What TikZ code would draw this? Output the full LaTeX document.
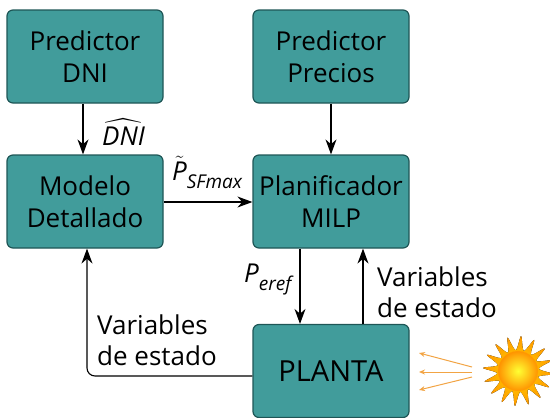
\documentclass[tikz,border=0pt]{standalone}
\usepackage{fontspec}
\usepackage{amsmath}
\setmainfont{Open Sans}
\usetikzlibrary{arrows.meta,shadings}
\definecolor{boxfill}{HTML}{419C9B}
\definecolor{boxline}{HTML}{1E5656}
\definecolor{rayc}{HTML}{F2A444}
\newcommand{\subtxt}[1]{\raisebox{-0.32em}{\fontsize{19}{19}\selectfont\itshape #1}}
\begin{document}
\begin{tikzpicture}[x=1pt,y=-1pt,
  blk/.style={draw=boxline,line width=1.2pt,fill=boxfill,rounded corners=6pt,
    minimum width=156pt,minimum height=93pt,align=center,font=\fontsize{26}{32}\selectfont,inner sep=0pt},
  arr/.style={line width=1.1pt,-{Stealth[length=15pt,width=11pt]}},
  lbl/.style={font=\fontsize{26}{31}\selectfont,inner sep=0pt},
  ray/.style={draw=rayc,line width=1pt,-{Stealth[length=6pt,width=5pt]}}]
\useasboundingbox (0,0) rectangle (550,418);
\node[blk] (pdni) at (85,56.5) {Predictor\\DNI};
\node[blk] (ppre) at (331,56.5) {Predictor\\Precios};
\node[blk] (mod) at (85,201.5) {Modelo\\Detallado};
\node[blk] (plan) at (331,201.5) {Planificador\\MILP};
\node[blk,font=\fontsize{29}{32}\selectfont] (planta) at (331,371) {PLANTA};
\draw[arr] (pdni.south -| 83,0) -- (mod.north -| 83,0);
\draw[arr] (ppre) -- (plan);
\draw[arr] (mod.east |- 0,202) -- (plan.west |- 0,202);
\draw[arr] (plan.south -| 300,0) -- (planta.north -| 300,0);
\draw[arr] (planta.north -| 363,0) -- (plan.south -| 363,0);
\draw[arr,rounded corners=8pt] (planta.west |- 0,376) -| (mod.south -| 87,0);
\node[lbl,anchor=base west] (ldni) at (102,145) {$\widehat{\text{\itshape DNI}}$};
\node[lbl,anchor=base west] (lsf) at (172,180) {$\tilde{\text{\itshape P}}$\subtxt{SFmax}};
\node[lbl,anchor=base west] (lp) at (244,282) {\textit{P}\subtxt{eref}};
\node[lbl,align=left,anchor=west] (lv1) at (377,292) {Variables\\de estado};
\node[lbl,align=left,anchor=west] (lv2) at (97,340) {Variables\\de estado};
% sun
\coordinate (sun) at (518,371);
\fill[inner color=yellow!70!orange,outer color=orange!80!yellow]
  plot[smooth cycle,samples=32,domain=0:31,variable=\k] ({518+ (mod(\k,2)==0 ? 35 : 21)*cos(\k*11.25+5)},{371+ (mod(\k,2)==0 ? 35 : 21)*sin(\k*11.25+5)});
\draw[draw=orange!70!yellow,line width=0.4pt,inner color=yellow!80!white,outer color=orange!85!yellow] (sun) circle (20);
\coordinate (r0) at (472,367);
\coordinate (r1) at (419,353);
\coordinate (r2) at (419,372);
\coordinate (r3) at (419,390);
\draw[ray] (r0) -- (r1);
\draw[ray] (472,372) coordinate (r0b) -- (r2);
\draw[ray] (472,377) coordinate (r0c) -- (r3);
\end{tikzpicture}
\end{document}
